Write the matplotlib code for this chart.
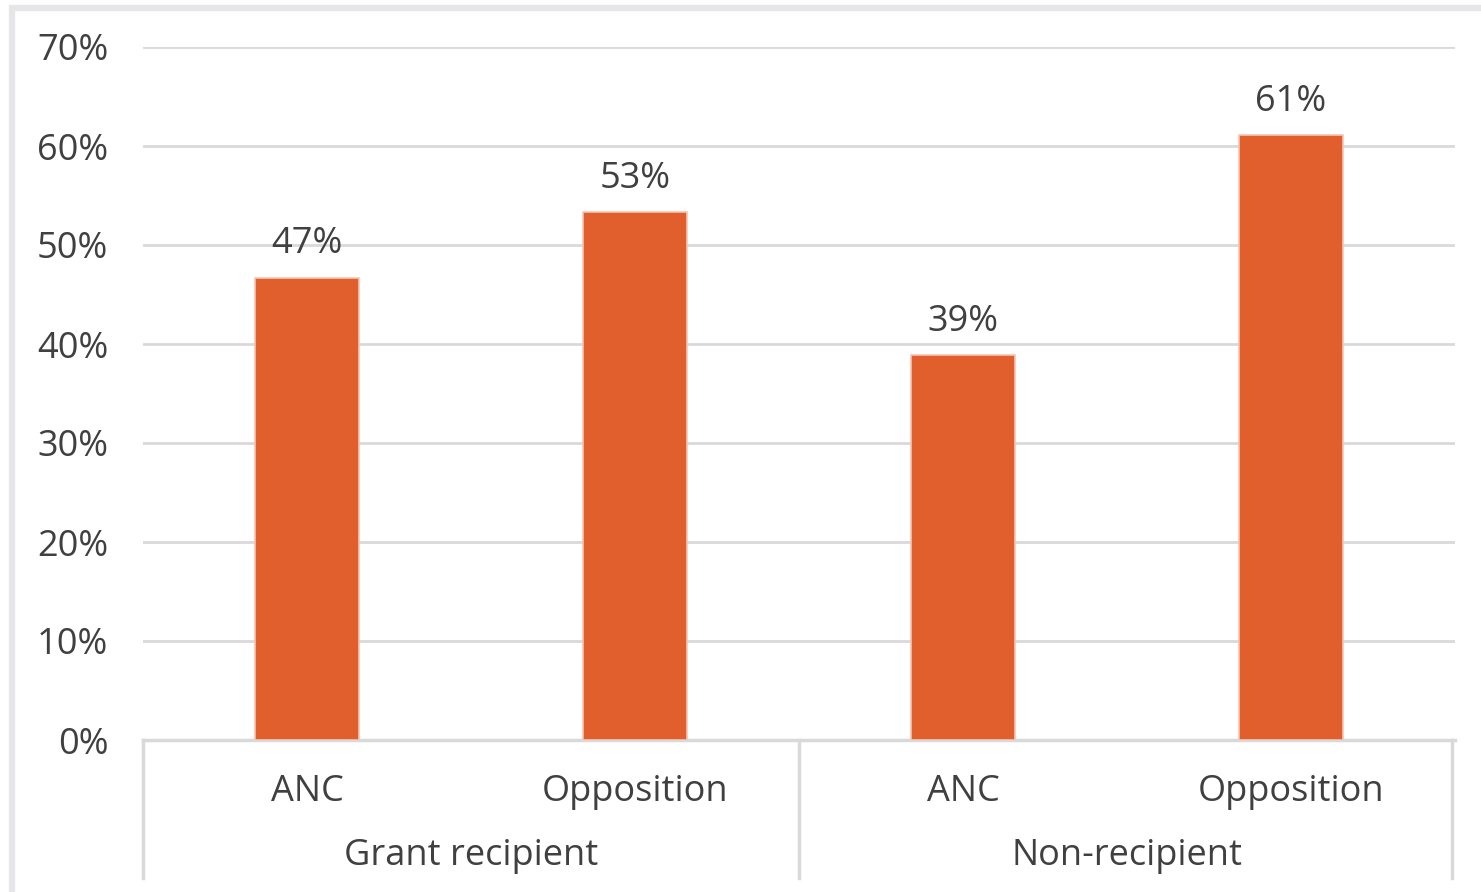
import matplotlib.pyplot as plt
from matplotlib.patches import Rectangle

plt.rcParams['font.family'] = ['Open Sans', 'DejaVu Sans']

# data
groups = ['Grant recipient', 'Non-recipient']
parties = ['ANC', 'Opposition', 'ANC', 'Opposition']
shares = [46.7, 53.3, 38.9, 61.1]
yticks = [0, 10, 20, 30, 40, 50, 60, 70]

bar_col = '#E05F2C'
grid_col = '#D9D9D9'
txt_col = '#404040'
fs = 26

fig = plt.figure(figsize=(14.81, 8.92), dpi=100)
ax = fig.add_axes([143 / 1481, 1 - 740 / 892, 1312 / 1481, 693 / 892])

x = list(range(len(shares)))
ax.bar(x, shares, width=0.32, color=bar_col, edgecolor='#F3C6B4', linewidth=1.2, zorder=3)
for xi, v in zip(x, shares):
    ax.annotate(f'{round(v)}%', (xi, v), xytext=(0, 11), textcoords='offset points',
                ha='center', va='bottom', fontsize=fs, color=txt_col)

ax.set_xlim(-0.5, 3.5)
ax.set_ylim(0, 70)
ax.set_yticks(yticks)
ax.set_yticklabels([f'{t}%' for t in yticks], fontsize=fs, color=txt_col)
ax.tick_params(axis='y', length=0, pad=25)
ax.set_xticks([])
ax.grid(axis='y', color=grid_col, linewidth=2, zorder=0)
for s in ['top', 'right', 'left']:
    ax.spines[s].set_visible(False)
ax.spines['bottom'].set_color(grid_col)
ax.spines['bottom'].set_linewidth(2.5)

# category and group labels under the axis
tr = ax.get_xaxis_transform()
for xi, p in zip(x, parties):
    ax.text(xi, -0.075, p, transform=tr, ha='center', va='center', fontsize=fs, color=txt_col)
for gi, g in enumerate(groups):
    ax.text(gi * 2 + 0.5, -0.168, g, transform=tr, ha='center', va='center', fontsize=fs, color=txt_col)
for sx in [-0.5, 1.5, 3.49]:
    ax.plot([sx, sx], [0, -0.199], transform=tr, color=grid_col, linewidth=2.5, clip_on=False)

# light outer frame
fig.patches.append(Rectangle((12 / 1481, -0.05), 1.1, 1 - 8 / 892 + 0.05, transform=fig.transFigure,
                             fill=False, edgecolor='#E6E6E8', linewidth=4.5))

fig.savefig('out.png', dpi=100)
